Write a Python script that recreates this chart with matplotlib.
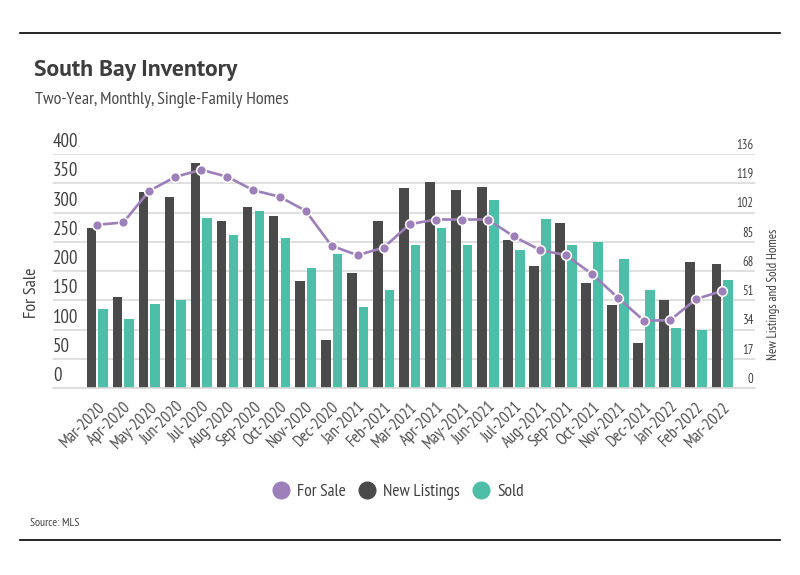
import matplotlib
matplotlib.use('Agg')
import matplotlib.pyplot as plt
from matplotlib import font_manager as fm
from matplotlib.transforms import ScaledTranslation
from matplotlib.lines import Line2D
import numpy as np

months = ['Mar-2020', 'Apr-2020', 'May-2020', 'Jun-2020', 'Jul-2020', 'Aug-2020',
          'Sep-2020', 'Oct-2020', 'Nov-2020', 'Dec-2020', 'Jan-2021', 'Feb-2021',
          'Mar-2021', 'Apr-2021', 'May-2021', 'Jun-2021', 'Jul-2021', 'Aug-2021',
          'Sep-2021', 'Oct-2021', 'Nov-2021', 'Dec-2021', 'Jan-2022', 'Feb-2022',
          'Mar-2022']
for_sale = [279, 283, 337, 361, 373, 361, 338, 327, 303, 243, 227, 240,
            280, 288, 288, 288, 259, 236, 227, 195, 154, 115, 116, 152, 166]
new_listings = [93, 53, 114, 111, 131, 97, 105, 100, 62, 28, 67, 97,
                116, 120, 115, 117, 86, 71, 96, 61, 48, 26, 51, 73, 72]
sold = [46, 40, 49, 51, 99, 89, 103, 87, 70, 78, 47, 57,
        83, 93, 83, 109, 80, 98, 83, 85, 75, 57, 35, 34, 63]
left_ticks = [0, 50, 100, 150, 200, 250, 300, 350, 400]
right_ticks = [0, 17, 34, 51, 68, 85, 102, 119, 136]

C_SALE = '#9d7fba'
C_NEW = '#4a4a4a'
C_SOLD = '#4fbea9'
C_TEXT = '#404040'

avail = set(f.name for f in fm.fontManager.ttflist)
def pick(cands):
    for c in cands:
        if c in avail:
            return c
    return 'DejaVu Sans'

NARROW = pick(['PT Sans Narrow', 'Archivo Narrow', 'Liberation Sans Narrow',
               'Asap Condensed', 'Encode Sans Condensed', 'Barlow Semi Condensed'])
TITLE = pick(['PT Sans', 'Asap', 'Lato', 'Open Sans'])
plt.rcParams['font.family'] = [NARROW, 'DejaVu Sans']

W, H = 800, 575
fig = plt.figure(figsize=(W / 100, H / 100), dpi=100)
L, R, T, B = 53, 755, 154, 388
ax = fig.add_axes([L / W, 1 - B / H, (R - L) / W, (B - T) / H])
ax2 = ax.twinx()

x = np.arange(len(months))
bw = 0.37
ax.bar(x - 0.225, new_listings, bw, color=C_NEW, zorder=2)
ax.bar(x + 0.225, sold, bw, color=C_SOLD, zorder=2)
ax.set_ylim(0, 136)
ax.set_xlim(-1.70, 25.26)
ax.set_yticks(right_ticks)
ax.yaxis.set_ticks_position('right')
ax.grid(axis='y', color='#d9d9d9', linewidth=1.2)
ax.set_axisbelow(True)
for s in ['top', 'left', 'right']:
    ax.spines[s].set_visible(False)
ax.spines['bottom'].set_color('#d9d9d9')
ax.spines['bottom'].set_linewidth(1.2)
ax.tick_params(axis='y', length=0, pad=-1, labelsize=9, labelcolor=C_TEXT)
for t in ax.yaxis.get_major_ticks():
    t.label2.set_ha('right')
    t.label2.set_va('bottom')
    t.label2.set_transform(t.label2.get_transform() + ScaledTranslation(0, 1.5 / 72, fig.dpi_scale_trans))

ax.set_xticks(x)
ax.set_xticklabels(months, rotation=45, ha='right', rotation_mode='anchor',
                   fontsize=12, color='#505050')
ax.tick_params(axis='x', length=0, pad=8)

ax2.plot(x, for_sale, color=C_SALE, linewidth=1.9, marker='o', markersize=7,
         markerfacecolor=C_SALE, markeredgecolor='white', markeredgewidth=1.1, zorder=3)
ax2.set_ylim(0, 400)
ax2.set_yticks(left_ticks)
ax2.yaxis.set_ticks_position('left')
for s in ['top', 'left', 'right', 'bottom']:
    ax2.spines[s].set_visible(False)
ax2.tick_params(axis='y', length=0, pad=0, labelsize=13.5, labelcolor=C_TEXT)
for t in ax2.yaxis.get_major_ticks():
    t.label1.set_ha('left')
    t.label1.set_va('bottom')
    t.label1.set_transform(t.label1.get_transform() + ScaledTranslation(0, 2 / 72, fig.dpi_scale_trans))

fig.text(32 / W, 1 - 293 / H, 'For Sale', rotation=90, ha='center', va='center',
         fontsize=13, color=C_TEXT)
fig.text(774 / W, 1 - 294 / H, 'New Listings and Sold Homes', rotation=90, ha='center',
         va='center', fontsize=9.2, color=C_TEXT)

fig.text(34 / W, 1 - 76 / H, 'South Bay Inventory', fontsize=17, fontweight='bold',
         color='#3d3d3d', va='baseline', ha='left', family=[TITLE, 'DejaVu Sans'])
fig.text(35 / W, 1 - 104 / H, 'Two-Year, Monthly, Single-Family Homes', fontsize=13,
         color='#4a4a4a', va='baseline', ha='left')
fig.text(30 / W, 1 - 523 / H, 'Source: MLS', fontsize=8.5, color=C_TEXT, va='center', ha='left')

fig.add_artist(Line2D([20 / W, 780 / W], [1 - 32.5 / H, 1 - 32.5 / H], color='black', linewidth=1.2))
fig.add_artist(Line2D([20 / W, 780 / W], [1 - 540 / H, 1 - 540 / H], color='black', linewidth=1.2))

handles = [Line2D([], [], linestyle='none', marker='o', markersize=12, color=c)
           for c in [C_SALE, C_NEW, C_SOLD]]
fig.legend(handles, ['For Sale', 'New Listings', 'Sold'], loc='center',
           bbox_to_anchor=(398 / W, 1 - 492 / H), ncol=3, frameon=False,
           fontsize=12.5, handlelength=1.0, handletextpad=0.4, columnspacing=0.75,
           labelcolor=C_TEXT)

fig.savefig('out.png', dpi=100)
